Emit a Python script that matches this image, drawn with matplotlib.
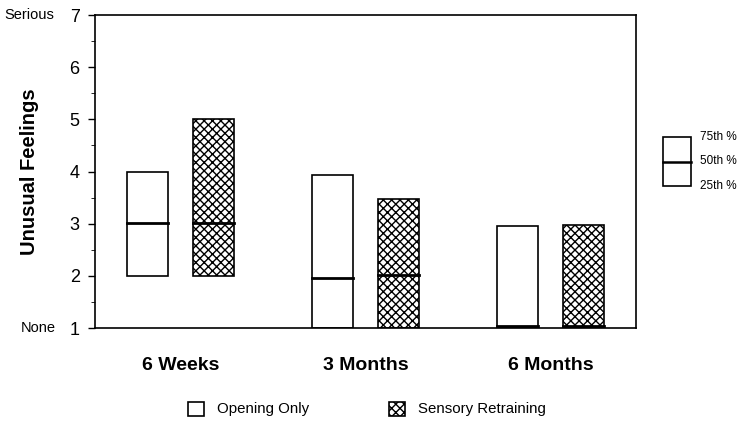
import matplotlib.pyplot as plt
from matplotlib.patches import Rectangle
import numpy as np

plt.rcParams['font.family'] = ['Liberation Sans', 'DejaVu Sans']

groups = ['6 Weeks', '3 Months', '6 Months']
series = ['Opening Only', 'Sensory Retraining']
q25 = {'Opening Only': [2, 1, 1], 'Sensory Retraining': [2, 1, 1]}
q50 = {'Opening Only': [3.02, 1.95, 1.03], 'Sensory Retraining': [3.02, 2.01, 1.03]}
q75 = {'Opening Only': [4.0, 3.93, 2.95], 'Sensory Retraining': [5.0, 3.48, 2.98]}
hatches = {'Opening Only': '', 'Sensory Retraining': 'xxxx'}
offsets = {'Opening Only': -0.176, 'Sensory Retraining': 0.18}

fig = plt.figure(figsize=(7.5, 4.3), dpi=100)
ax = fig.add_axes([0.1267, 0.2372, 0.7213, 0.7278])

w = 0.222
x = np.arange(len(groups))
for s in series:
    for i in range(len(groups)):
        xc = x[i] + offsets[s]
        ax.add_patch(Rectangle((xc - w / 2, q25[s][i]), w, q75[s][i] - q25[s][i],
                               facecolor='white', edgecolor='black', lw=1.2,
                               hatch=hatches[s]))
        ax.plot([xc - w / 2, xc + w / 2], [q50[s][i]] * 2, color='black', lw=2)

ax.set_xlim(-0.462, 2.462)
ax.set_ylim(1, 7)
ax.set_xticks(x)
ax.set_xticklabels(groups, fontweight='bold', fontsize=14)
ax.tick_params(axis='x', length=0, pad=21)
ax.set_yticks(range(1, 8))
ax.set_yticks(np.arange(1.5, 7, 1), minor=True)
ax.tick_params(axis='y', labelsize=13, length=5, width=1, pad=6)
ax.tick_params(axis='y', which='minor', length=3)
for sp in ax.spines.values():
    sp.set_linewidth(1.2)
ax.set_ylabel('Unusual Feelings', fontweight='bold', fontsize=14.5)
ax.yaxis.set_label_coords(-0.103, 0.5)

fig.text(0.006, 1 - 15 / 430, 'Serious', fontsize=10.5, va='center')
fig.text(0.028, 1 - 328 / 430, 'None', fontsize=10.5, va='center')

# side legend for percentiles
lx, lw_ = 663 / 750, 28 / 750
ly0, ly1 = 1 - 186 / 430, 1 - 137 / 430
fig.patches.append(Rectangle((lx, ly0), lw_, ly1 - ly0, transform=fig.transFigure,
                             facecolor='white', edgecolor='black', lw=1.2))
ymid = (ly0 + ly1) / 2
fig.add_artist(plt.Line2D([lx, lx + lw_], [ymid, ymid], transform=fig.transFigure,
                          color='black', lw=1.8))
for yy, t in zip([ly1, ymid, ly0], ['75th %', '50th %', '25th %']):
    fig.text(700 / 750, yy, t, fontsize=8.5, va='center')

# bottom legend
for s, px in zip(series, [188, 389]):
    fig.patches.append(Rectangle((px / 750, 1 - 416 / 430), 16 / 750, 14 / 430,
                                 transform=fig.transFigure, facecolor='white',
                                 edgecolor='black', lw=1.2, hatch=hatches[s]))
    fig.text((px + 29) / 750, 1 - 409 / 430, s, fontsize=10.8, va='center')

fig.savefig('out.png', dpi=100)
